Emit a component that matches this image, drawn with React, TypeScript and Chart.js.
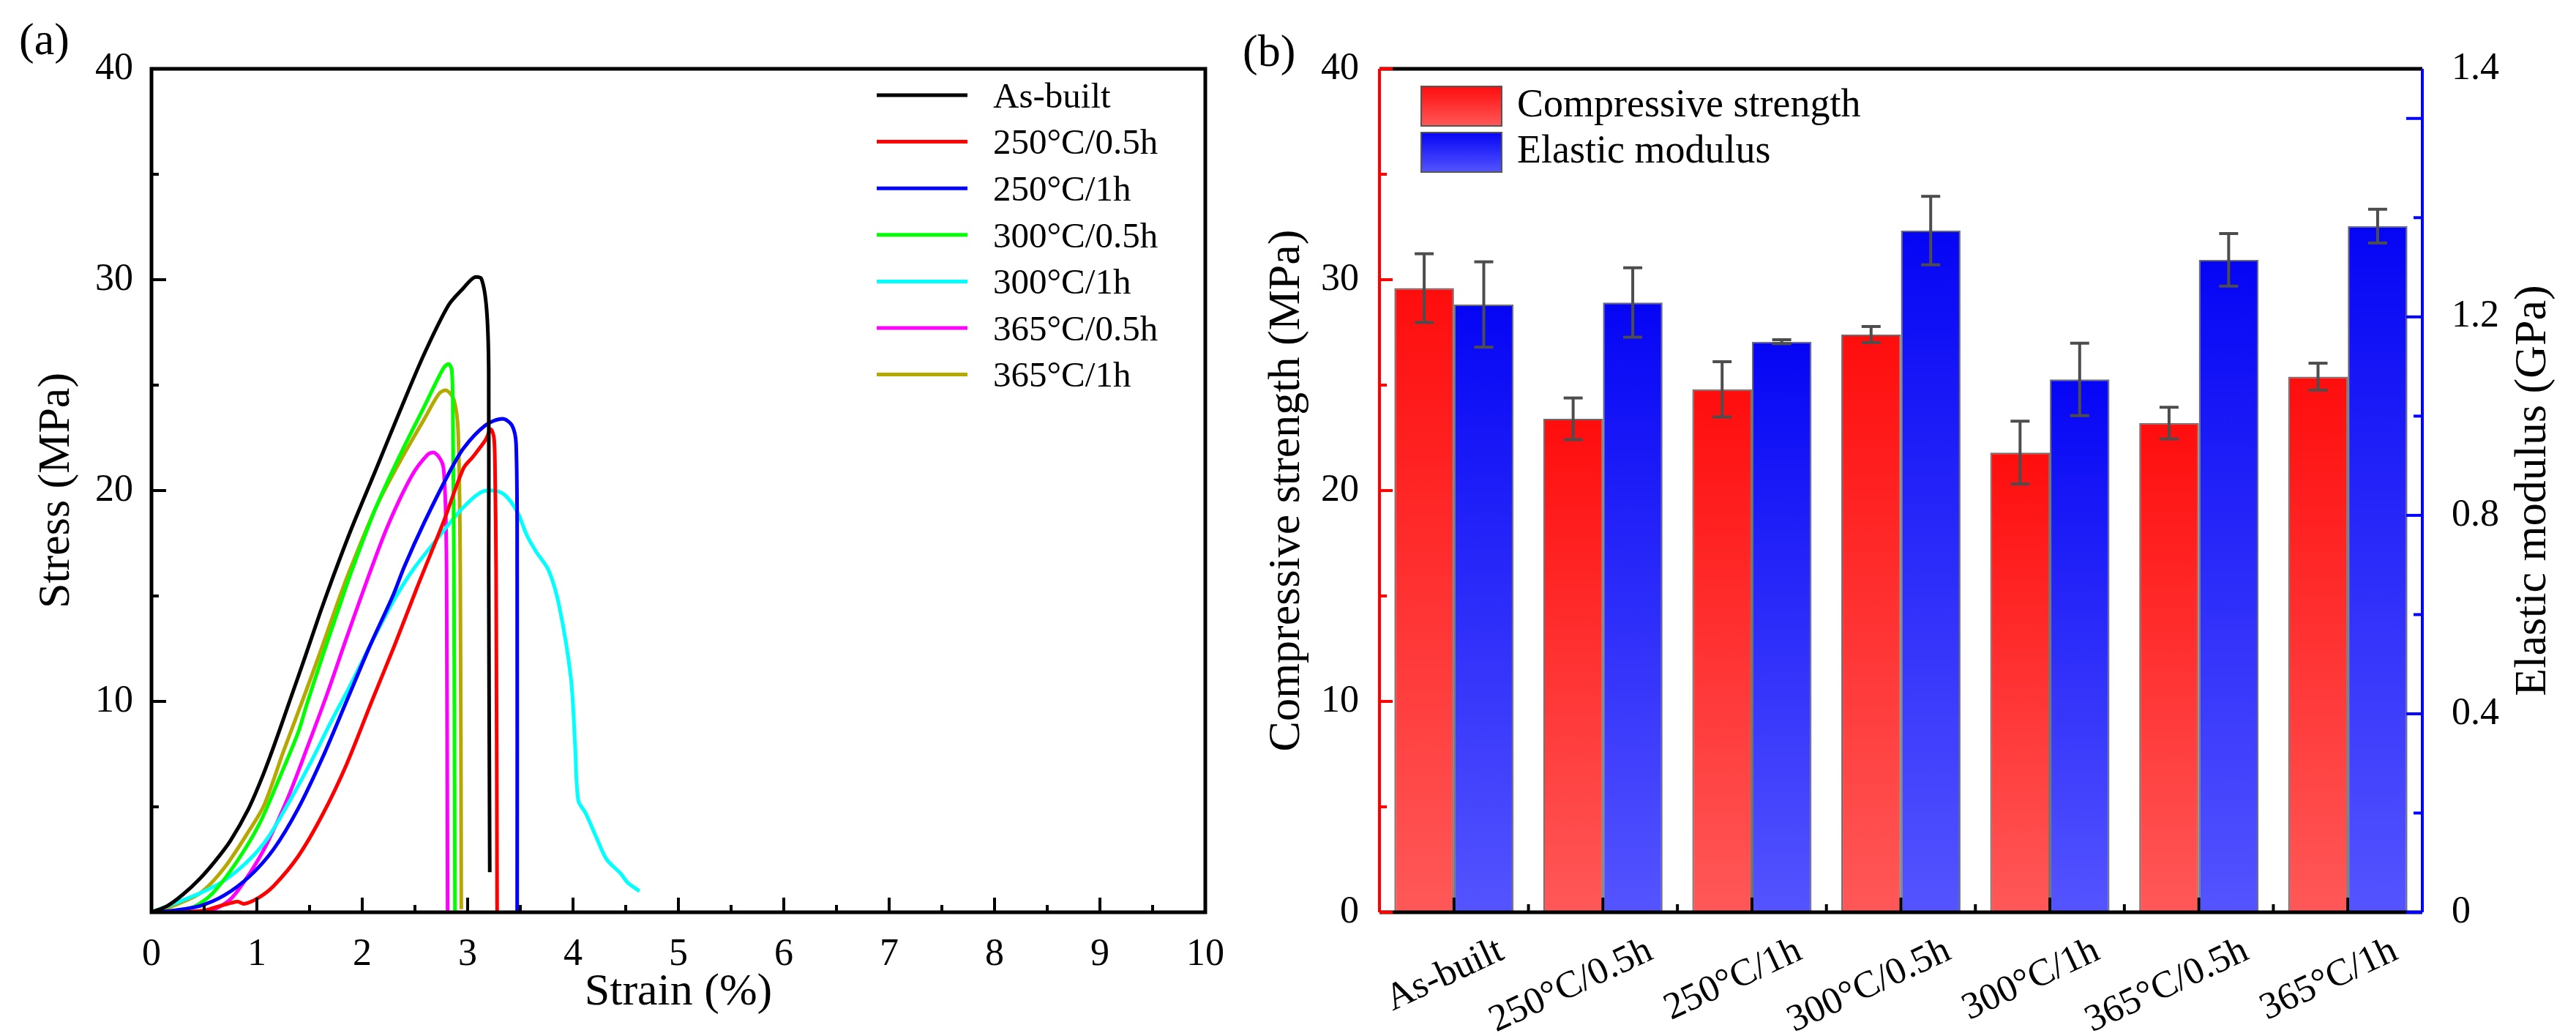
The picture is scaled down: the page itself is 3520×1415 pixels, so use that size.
import React, { useEffect, useRef } from "react";
import { Chart, registerables } from "chart.js";

Chart.register(...registerables);

const FONT = "'Liberation Serif', 'Times New Roman', serif";

// ---- (a) stress-strain curves: [strain (%), stress (MPa)]
const asBuilt: [number, number][] = [
  [0, 0], [0.15, 0.3], [0.3, 0.85], [0.46, 1.6], [0.6, 2.4], [0.75, 3.4], [0.92, 4.9], [1.05, 6.4],
  [1.17, 8.0], [1.31, 10.0], [1.45, 12.0], [1.6, 14.2], [1.73, 16.0], [1.89, 18.1], [2.13, 21.0],
  [2.36, 23.8], [2.59, 26.5], [2.82, 28.8], [2.96, 29.6], [3.06, 30.1], [3.13, 30.05], [3.18, 28.6],
  [3.2, 25.7], [3.2, 16.2], [3.21, 1.9],
];
const t250h05: [number, number][] = [
  [0.3, 0], [0.51, 0.1], [0.65, 0.3], [0.76, 0.45], [0.82, 0.5], [0.88, 0.4], [1.02, 0.7], [1.16, 1.25],
  [1.39, 2.64], [1.62, 4.6], [1.85, 7.0], [2.09, 10.0], [2.31, 12.7], [2.52, 15.4], [2.77, 18.5],
  [2.96, 21.05], [3.05, 21.6], [3.17, 22.4], [3.22, 22.9], [3.25, 22.5], [3.26, 21.0],
  [3.27, 16.2], [3.28, 0],
];
const t250h1: [number, number][] = [
  [0, 0], [0.23, 0.1], [0.46, 0.3], [0.69, 0.8], [0.93, 1.7], [1.16, 3.0], [1.39, 4.9], [1.62, 7.3],
  [1.85, 10.0], [2.07, 12.6], [2.29, 15.0], [2.4, 16.4], [2.59, 18.5], [2.82, 20.8], [2.96, 22.0],
  [3.17, 23.1], [3.33, 23.4], [3.42, 23.1], [3.46, 22.2], [3.47, 16.2], [3.47, 0],
];
const t300h05: [number, number][] = [
  [0, 0], [0.25, 0.1], [0.4, 0.25], [0.58, 0.9], [0.81, 2.4], [1.02, 4.15], [1.2, 6.2], [1.39, 8.5],
  [1.47, 9.8], [1.62, 12.1], [1.79, 14.6], [1.9, 16.2], [2.13, 19.2], [2.36, 21.7], [2.59, 24.0],
  [2.77, 25.8], [2.82, 26.0], [2.85, 25.7], [2.86, 23.4], [2.87, 16.2], [2.88, 0],
];
const t300h1: [number, number][] = [
  [0, 0], [0.23, 0.44], [0.46, 0.9], [0.69, 1.5], [0.93, 2.5], [1.1, 3.5], [1.28, 5.0], [1.5, 7.0],
  [1.7, 9.0], [1.88, 10.7], [2.1, 12.9], [2.3, 14.8], [2.49, 16.3], [2.71, 17.7], [2.94, 19.1],
  [3.12, 19.9], [3.24, 20.0], [3.35, 19.8], [3.47, 19.0], [3.56, 17.9], [3.65, 17.1], [3.77, 16.2],
  [3.87, 14.5], [3.98, 11.1], [4.02, 7.9], [4.05, 5.3], [4.12, 4.7], [4.23, 3.45], [4.32, 2.5],
  [4.45, 1.85], [4.52, 1.4], [4.63, 1.0],
];
const t365h05: [number, number][] = [
  [0.45, 0], [0.58, 0.1], [0.76, 0.67], [0.93, 1.83], [1.09, 3.2], [1.3, 5.5], [1.48, 7.84],
  [1.67, 10.4], [1.85, 13.0], [2.05, 15.8], [2.24, 18.3], [2.47, 20.7], [2.62, 21.7], [2.68, 21.8],
  [2.74, 21.5], [2.77, 21.1], [2.79, 19.3], [2.8, 16.2], [2.81, 0],
];
const t365h1: [number, number][] = [
  [0, 0], [0.2, 0.3], [0.46, 0.9], [0.69, 2.1], [0.93, 3.9], [1.07, 5.1], [1.25, 7.6], [1.43, 10.0],
  [1.62, 12.6], [1.76, 14.6], [1.88, 16.2], [2.13, 19.2], [2.36, 21.4], [2.59, 23.4], [2.73, 24.6],
  [2.8, 24.75], [2.87, 24.3], [2.91, 22.8], [2.93, 16.2], [2.94, 0.15],
];

const curveLabels = ["As-built", "250°C/0.5h", "250°C/1h", "300°C/0.5h", "300°C/1h", "365°C/0.5h", "365°C/1h"];
const curveData = [asBuilt, t250h05, t250h1, t300h05, t300h1, t365h05, t365h1];
const curveColors = ["#000000", "#ff0000", "#0000ff", "#00ff00", "#00ffff", "#ff00ff", "#b5a800"];

const strainTicks = [0, 1, 2, 3, 4, 5, 6, 7, 8, 9, 10];
const stressTicks = [0, 10, 20, 30, 40];

// ---- (b) compressive strength / elastic modulus
const treatments = ["As-built", "250°C/0.5h", "250°C/1h", "300°C/0.5h", "300°C/1h", "365°C/0.5h", "365°C/1h"];
const strength = [29.6, 23.4, 24.8, 27.4, 21.8, 23.2, 25.4];
const strengthErr = [1.63, 0.99, 1.31, 0.38, 1.49, 0.75, 0.64];
const modulus = [1.225, 1.229, 1.15, 1.374, 1.074, 1.315, 1.383];
const modulusErr = [0.086, 0.07, 0.004, 0.069, 0.073, 0.053, 0.034];

const strengthTicks = [0, 10, 20, 30, 40];
const modulusTickValues = [0, 0.4, 0.8, 1.2, 1.7];
const modulusTickLabels = ["0", "0.4", "0.8", "1.2", "1.4"];
const modulusMinor = [0.2, 0.6, 1.0, 1.4];
const modulusMajor = [0, 0.4, 0.8, 1.2, 1.6];

const RED_TOP = "#ff0d0d";
const RED_BOTTOM = "#ff5858";
const BLUE_TOP = "#0505f5";
const BLUE_BOTTOM = "#5454ff";

function mids(v: number[]) {
  const out: number[] = [];
  for (let i = 0; i < v.length - 1; i++) out.push((v[i] + v[i + 1]) / 2);
  return out;
}

function line(ctx: CanvasRenderingContext2D, x1: number, y1: number, x2: number, y2: number) {
  ctx.beginPath();
  ctx.moveTo(x1, y1);
  ctx.lineTo(x2, y2);
  ctx.stroke();
}

const panelA = {
  id: "panelA",
  afterDatasetsDraw(chart: any) {
    const { ctx, chartArea: a, scales } = chart;
    ctx.save();
    ctx.strokeStyle = "#000";
    ctx.lineWidth = 4;
    // inward ticks
    strainTicks.forEach((v) => line(ctx, scales.x.getPixelForValue(v), a.bottom, scales.x.getPixelForValue(v), a.bottom - 20));
    mids(strainTicks).forEach((v) => line(ctx, scales.x.getPixelForValue(v), a.bottom, scales.x.getPixelForValue(v), a.bottom - 10));
    stressTicks.forEach((v) => line(ctx, a.left, scales.y.getPixelForValue(v), a.left + 20, scales.y.getPixelForValue(v)));
    mids(stressTicks).forEach((v) => line(ctx, a.left, scales.y.getPixelForValue(v), a.left + 10, scales.y.getPixelForValue(v)));
    ctx.lineWidth = 5;
    ctx.strokeRect(a.left, a.top, a.right - a.left, a.bottom - a.top);

    // legend
    ctx.font = `49px ${FONT}`;
    ctx.textBaseline = "middle";
    ctx.textAlign = "left";
    chart.data.datasets.forEach((ds: any, i: number) => {
      const y = a.top + 36 + i * 63.6;
      ctx.strokeStyle = ds.borderColor;
      ctx.lineWidth = 5;
      line(ctx, a.right - 449, y, a.right - 325, y);
      ctx.fillStyle = "#000";
      ctx.fillText(ds.label, a.right - 290, y + 4);
    });
    ctx.restore();
  },
};

function StressStrain() {
  const ref = useRef<HTMLCanvasElement | null>(null);
  useEffect(() => {
    if (!ref.current) return;
    const chart = new Chart(ref.current, {
      type: "line",
      data: {
        datasets: curveData.map((d, i) => ({
          label: curveLabels[i],
          data: d.map(([x, y]) => ({ x, y })),
          borderColor: curveColors[i],
          backgroundColor: curveColors[i],
          borderWidth: 5,
          pointRadius: 0,
          tension: 0.3,
          fill: false,
          borderJoinStyle: "round" as const,
        })),
      },
      options: {
        responsive: false,
        animation: false,
        devicePixelRatio: 1,
        layout: { padding: { top: 94, right: 53, left: 0, bottom: 0 } },
        plugins: { legend: { display: false }, tooltip: { enabled: false } },
        scales: {
          x: {
            type: "linear",
            min: 0,
            max: 10,
            afterFit: (s: any) => { s.height = 169; },
            grid: { display: false, drawTicks: false },
            border: { display: false },
            ticks: { stepSize: 1, padding: 27, maxRotation: 0, color: "#000", font: { family: FONT, size: 52 } },
            title: { display: true, text: "Strain (%)", color: "#000", font: { family: FONT, size: 62 }, padding: { top: 0, bottom: 22 } },
          },
          y: {
            type: "linear",
            min: 0,
            max: 40,
            afterFit: (s: any) => { s.width = 207; },
            grid: { display: false, drawTicks: false },
            border: { display: false },
            ticks: {
              stepSize: 10,
              padding: 25,
              color: "#000",
              font: { family: FONT, size: 52 },
              callback: (v: any) => (v === 0 ? "" : String(v)),
            },
            title: { display: true, text: "Stress (MPa)", color: "#000", font: { family: FONT, size: 62 }, padding: { top: 41, bottom: 0 } },
          },
        },
      },
      plugins: [panelA],
    } as any);
    return () => chart.destroy();
  }, []);
  return <canvas ref={ref} width={1700} height={1415} style={{ position: "absolute", left: 0, top: 0 }} />;
}

const barGradient = (top: string, bottom: string) => (c: any) => {
  const chart = c.chart;
  if (c.type !== "data") return top;
  const ds = chart.data.datasets[c.datasetIndex];
  const sc = chart.scales[ds.yAxisID];
  if (!sc) return top;
  const y0 = sc.getPixelForValue(c.raw);
  const y1 = sc.getPixelForValue(0);
  if (!isFinite(y0) || !isFinite(y1) || y0 === y1) return top;
  const g = chart.ctx.createLinearGradient(0, y0, 0, y1);
  g.addColorStop(0, top);
  g.addColorStop(1, bottom);
  return g;
};

const panelB = {
  id: "panelB",
  afterDatasetsDraw(chart: any) {
    const { ctx, chartArea: a, scales } = chart;
    ctx.save();
    // error bars
    const errs = [strengthErr, modulusErr];
    chart.data.datasets.forEach((ds: any, d: number) => {
      const meta = chart.getDatasetMeta(d);
      const sc = scales[ds.yAxisID];
      ctx.strokeStyle = "#4d4d4d";
      ctx.lineWidth = 4;
      meta.data.forEach((bar: any, i: number) => {
        const v = ds.data[i];
        const e = errs[d][i];
        const yt = sc.getPixelForValue(v + e);
        const yb = sc.getPixelForValue(v - e);
        line(ctx, bar.x, yt, bar.x, yb);
        line(ctx, bar.x - 13, yt, bar.x + 13, yt);
        line(ctx, bar.x - 13, yb, bar.x + 13, yb);
      });
    });

    // bottom axis ticks
    const centers = treatments.map((_, i) => scales.x.getPixelForValue(i));
    ctx.strokeStyle = "#000";
    ctx.lineWidth = 4;
    centers.forEach((x) => line(ctx, x, a.bottom, x, a.bottom - 20));
    mids(centers).forEach((x) => line(ctx, x, a.bottom, x, a.bottom - 11));
    ctx.lineWidth = 5;
    line(ctx, a.left, a.top, a.right, a.top);
    line(ctx, a.left, a.bottom, a.right, a.bottom);

    // left (red) axis
    ctx.strokeStyle = "#ff0000";
    ctx.lineWidth = 4;
    strengthTicks.forEach((v) => line(ctx, a.left, scales.y.getPixelForValue(v), a.left + 18, scales.y.getPixelForValue(v)));
    mids(strengthTicks).forEach((v) => line(ctx, a.left, scales.y.getPixelForValue(v), a.left + 10, scales.y.getPixelForValue(v)));
    line(ctx, a.left, a.top, a.left, a.bottom);

    // right (blue) axis
    ctx.strokeStyle = "#0000ff";
    modulusMajor.forEach((v) => line(ctx, a.right, scales.y1.getPixelForValue(v), a.right - 22, scales.y1.getPixelForValue(v)));
    modulusMinor.forEach((v) => line(ctx, a.right, scales.y1.getPixelForValue(v), a.right - 12, scales.y1.getPixelForValue(v)));
    line(ctx, a.right, a.top, a.right, a.bottom);

    // legend
    ctx.font = `54px ${FONT}`;
    ctx.textBaseline = "middle";
    ctx.textAlign = "left";
    const swatches: [string, string][] = [[RED_TOP, RED_BOTTOM], [BLUE_TOP, BLUE_BOTTOM]];
    chart.data.datasets.forEach((ds: any, i: number) => {
      const x = a.left + 57;
      const y = a.top + 24 + i * 63;
      const g = ctx.createLinearGradient(0, y, 0, y + 54);
      g.addColorStop(0, swatches[i][0]);
      g.addColorStop(1, swatches[i][1]);
      ctx.fillStyle = g;
      ctx.fillRect(x, y, 110, 54);
      ctx.strokeStyle = "#555";
      ctx.lineWidth = 2;
      ctx.strokeRect(x, y, 110, 54);
      ctx.fillStyle = "#000";
      ctx.fillText(ds.label, a.left + 188, y + 27);
    });

    // right axis title (reads bottom to top)
    ctx.save();
    ctx.translate(a.right + 152, (a.top + a.bottom) / 2);
    ctx.rotate(-Math.PI / 2);
    ctx.textAlign = "center";
    ctx.font = `62px ${FONT}`;
    ctx.fillText("Elastic modulus (GPa)", 0, 0);
    ctx.restore();
    ctx.restore();
  },
};

function StrengthModulus() {
  const ref = useRef<HTMLCanvasElement | null>(null);
  useEffect(() => {
    if (!ref.current) return;
    const chart = new Chart(ref.current, {
      type: "bar",
      data: {
        labels: treatments,
        datasets: [
          {
            label: "Compressive strength",
            data: strength,
            yAxisID: "y",
            backgroundColor: barGradient(RED_TOP, RED_BOTTOM),
            borderColor: "#6b6b6b",
            borderWidth: 2,
            categoryPercentage: 0.8,
            barPercentage: 1,
          },
          {
            label: "Elastic modulus",
            data: modulus,
            yAxisID: "y1",
            backgroundColor: barGradient(BLUE_TOP, BLUE_BOTTOM),
            borderColor: "#6b6b6b",
            borderWidth: 2,
            categoryPercentage: 0.8,
            barPercentage: 1,
          },
        ],
      },
      options: {
        responsive: false,
        animation: false,
        devicePixelRatio: 1,
        layout: { padding: { top: 94, right: 0, left: 0, bottom: 0 } },
        plugins: { legend: { display: false }, tooltip: { enabled: false } },
        scales: {
          x: {
            afterFit: (s: any) => { s.height = 169; },
            grid: { display: false, drawTicks: false },
            border: { display: false },
            ticks: {
              autoSkip: false,
              minRotation: 25,
              maxRotation: 25,
              labelOffset: 65,
              padding: 22,
              color: "#000",
              font: { family: FONT, size: 52 },
            },
          },
          y: {
            position: "left",
            min: 0,
            max: 40,
            afterFit: (s: any) => { s.width = 185; },
            grid: { display: false, drawTicks: false },
            border: { display: false },
            ticks: { stepSize: 10, padding: 28, color: "#000", font: { family: FONT, size: 52 } },
            title: { display: true, text: "Compressive strength (MPa)", color: "#000", font: { family: FONT, size: 62 }, padding: { top: 22, bottom: 0 } },
          },
          y1: {
            position: "right",
            min: 0,
            max: 1.7,
            afterFit: (s: any) => { s.width = 210; },
            afterBuildTicks: (s: any) => { s.ticks = modulusTickValues.map((value) => ({ value })); },
            grid: { display: false, drawTicks: false },
            border: { display: false },
            ticks: {
              padding: 40,
              color: "#000",
              font: { family: FONT, size: 52 },
              callback: (_v: any, i: number) => modulusTickLabels[i],
            },
          },
        },
      },
      plugins: [panelB],
    } as any);
    return () => chart.destroy();
  }, []);
  return <canvas ref={ref} width={1820} height={1415} style={{ position: "absolute", left: 1700, top: 0 }} />;
}

export default function App() {
  const tag: React.CSSProperties = { position: "absolute", fontFamily: FONT, fontSize: 62, lineHeight: 1, color: "#000" };
  return (
    <div style={{ position: "absolute", left: 0, top: 0, width: 3520, height: 1415, background: "#fff", overflow: "hidden" }}>
      <StressStrain />
      <StrengthModulus />
      <div style={{ ...tag, left: 26, top: 22 }}>(a)</div>
      <div style={{ ...tag, left: 1698, top: 38 }}>(b)</div>
    </div>
  );
}
